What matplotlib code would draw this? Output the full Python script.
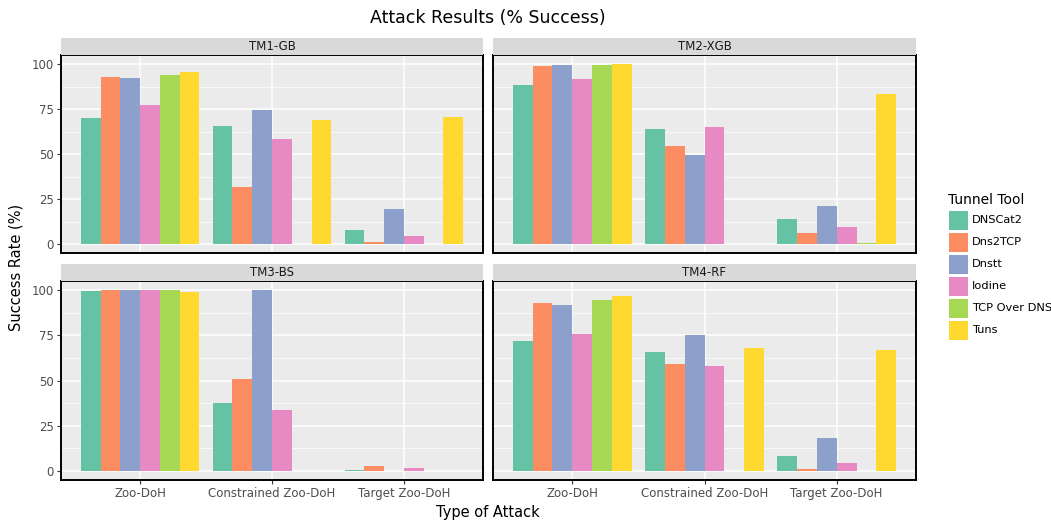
"""Faceted bar chart of attack success rate per tunnel tool and threat model."""

import matplotlib

matplotlib.use("Agg")
import matplotlib.pyplot as plt
import numpy as np
from matplotlib.patches import Rectangle

attacks = ["Zoo-DoH", "Constrained Zoo-DoH", "Target Zoo-DoH"]
tools = ["DNSCat2", "Dns2TCP", "Dnstt", "Iodine", "TCP Over DNS", "Tuns"]
panels = ["TM1-GB", "TM2-XGB", "TM3-BS", "TM4-RF"]

# success rate [%] per tool, one value per attack type
tm1_gb = [
    [70.2, 65.7, 7.8],
    [92.9, 31.8, 1.3],
    [92.4, 74.5, 19.6],
    [77.3, 58.1, 4.5],
    [93.9, 0.0, 0.0],
    [95.3, 68.9, 70.4],
]
tm2_xgb = [
    [88.5, 64.1, 14.0],
    [98.9, 54.2, 6.0],
    [99.4, 49.3, 20.9],
    [91.6, 65.2, 9.5],
    [99.4, 0.0, 0.3],
    [100.0, 0.0, 83.1],
]
tm3_bs = [
    [99.4, 37.8, 0.7],
    [100.0, 50.8, 2.6],
    [100.0, 100.0, 0.0],
    [99.8, 33.6, 1.9],
    [99.8, 0.0, 0.0],
    [99.1, 0.0, 0.0],
]
tm4_rf = [
    [71.6, 65.5, 8.0],
    [92.6, 59.2, 1.3],
    [91.5, 75.0, 18.0],
    [75.5, 57.9, 4.6],
    [94.6, 0.0, 0.0],
    [96.5, 67.9, 67.0],
]
panel_values = [tm1_gb, tm2_xgb, tm3_bs, tm4_rf]

colors = ["#66C2A5", "#FC8D62", "#8DA0CB", "#E78AC3", "#A6D854", "#FFD92F"]

W, H = 1051, 522
fig = plt.figure(figsize=(W / 100, H / 100), dpi=100)


def frac(x0, y0, x1, y1):
    return [x0 / W, 1 - y1 / H, (x1 - x0) / W, (y1 - y0) / H]


# pixel boxes (left, top, right, bottom) of each panel
boxes = [(61, 55, 483, 253), (493, 55, 916, 253), (61, 281, 483, 480), (493, 281, 916, 480)]
strip_h = 17

positions = np.arange(len(attacks))
width = 0.9 / len(tools)

for idx, (name, values, box) in enumerate(zip(panels, panel_values, boxes)):
    x0, y0, x1, y1 = box
    ax = fig.add_axes(frac(x0, y0, x1, y1))
    ax.set_facecolor("#EBEBEB")
    for i, (tool, vals) in enumerate(zip(tools, values)):
        offs = (i - (len(tools) - 1) / 2) * width
        ax.bar(positions + offs, vals, width, color=colors[i], zorder=3)
    ax.set_xlim(-0.6, 2.6)
    ax.set_ylim(-5, 105)
    ax.set_yticks([0, 25, 50, 75, 100])
    ax.set_yticks([12.5, 37.5, 62.5, 87.5], minor=True)
    ax.set_xticks(positions)
    ax.grid(True, which="major", color="white", linewidth=1.1, zorder=0)
    ax.grid(True, which="minor", axis="y", color="white", linewidth=0.5, zorder=0)
    ax.tick_params(which="minor", length=0)
    ax.tick_params(which="major", color="#333333", length=3, pad=2, labelsize=8.5, labelcolor="#4D4D4D")
    for sp in ax.spines.values():
        sp.set_color("black")
        sp.set_linewidth(1.4)
    if idx in (0, 2):
        ax.set_yticklabels(["0", "25", "50", "75", "100"])
    else:
        ax.set_yticklabels([])
        ax.tick_params(axis="y", length=0)
    if idx in (2, 3):
        ax.set_xticklabels(attacks)
    else:
        ax.set_xticklabels([])
        ax.tick_params(axis="x", length=0)

    sax = fig.add_axes(frac(x0, y0 - strip_h, x1, y0))
    sax.set_facecolor("#D9D9D9")
    sax.set_xticks([])
    sax.set_yticks([])
    for sp in sax.spines.values():
        sp.set_visible(False)
    sax.text(0.5, 0.5, name, ha="center", va="center", fontsize=8.5, color="#1A1A1A",
             transform=sax.transAxes)

fig.text(488 / W, 1 - 18 / H, "Attack Results (% Success)", ha="center", va="center", fontsize=12.5)
fig.text(488 / W, 1 - 512 / H, "Type of Attack", ha="center", va="center", fontsize=10.5)
fig.text(16 / W, 1 - 267 / H, "Success Rate (%)", ha="center", va="center", rotation=90, fontsize=10.5)

# legend drawn by hand so the keys get ggplot-like size and spacing
fig.text(948 / W, 1 - 200 / H, "Tunnel Tool", ha="left", va="center", fontsize=10)
key = 19
for k, (tool, c) in enumerate(zip(tools, colors)):
    yc = 220 + 22 * k
    fig.add_artist(Rectangle((949 / W, 1 - (yc + key / 2) / H), key / W, key / H,
                             facecolor=c, edgecolor="none", transform=fig.transFigure))
    fig.text(972 / W, 1 - yc / H, tool, ha="left", va="center", fontsize=8.2)

fig.savefig("out.png", dpi=100)
